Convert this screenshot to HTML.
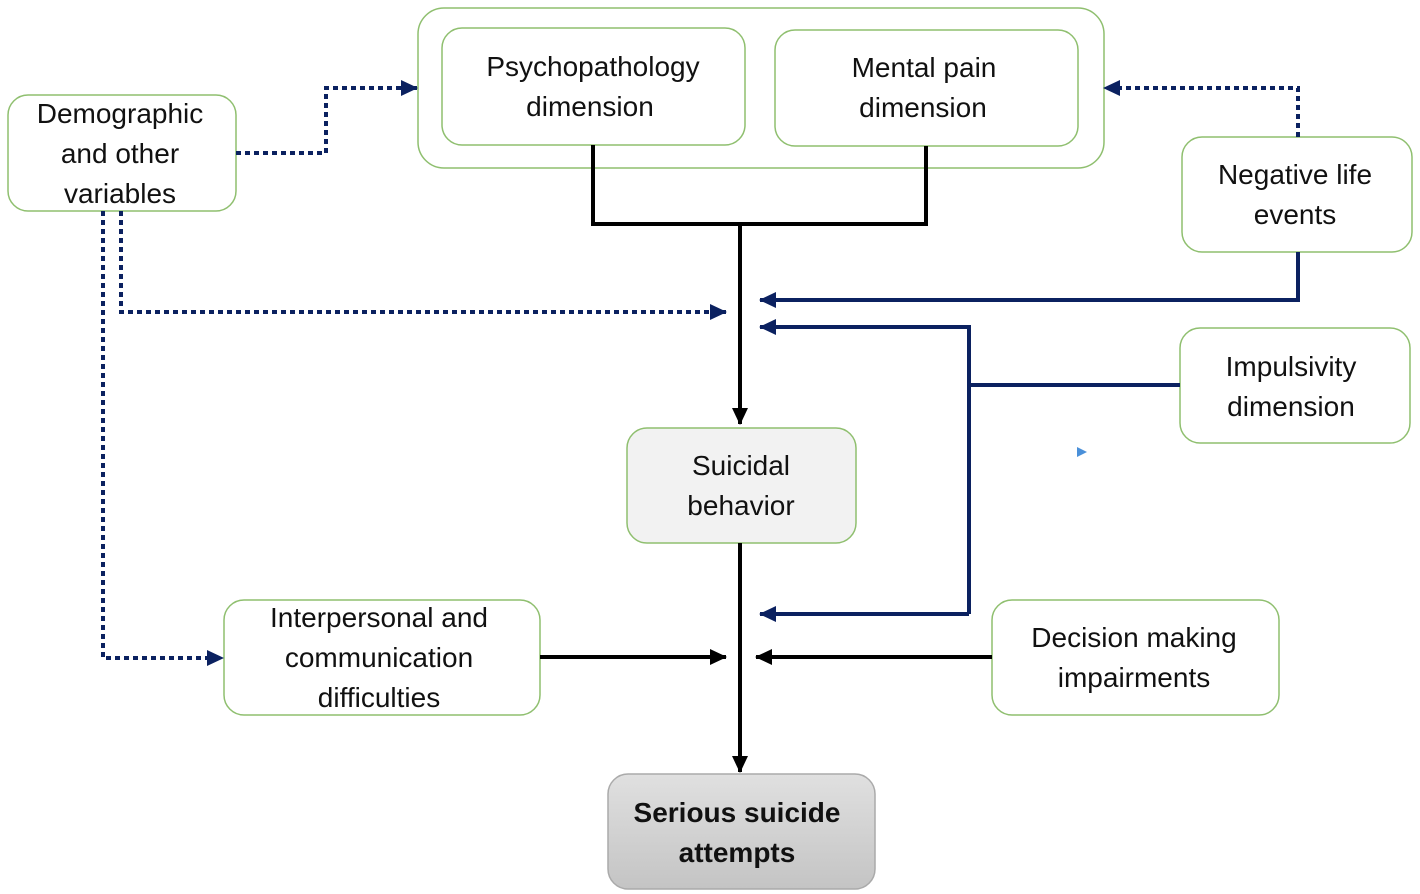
<!DOCTYPE html>
<html><head><style>body{margin:0;background:#fff}svg{display:block}text{font-family:"Liberation Sans",sans-serif;font-size:28px;fill:#111;text-anchor:middle}</style></head>
<body>
<svg width="1420" height="894" viewBox="0 0 1420 894">
<defs>
<marker id="an" markerWidth="18" markerHeight="16" refX="16" refY="8" orient="auto" markerUnits="userSpaceOnUse"><path d="M0,0 L17,8 L0,16 Z" fill="#0b2160"/></marker>
<marker id="ak" markerWidth="18" markerHeight="16" refX="16" refY="8" orient="auto" markerUnits="userSpaceOnUse"><path d="M0,0 L17,8 L0,16 Z" fill="#000"/></marker>
<linearGradient id="g" x1="0" y1="0" x2="0" y2="1"><stop offset="0" stop-color="#e0e0e0"/><stop offset="1" stop-color="#c4c4c4"/></linearGradient>
</defs>
<g fill="#fff" stroke="#8fbf6f" stroke-width="1.5">
<rect x="418" y="8" width="686" height="160" rx="26"/>
<rect x="442" y="28" width="303" height="117" rx="20"/>
<rect x="775" y="30" width="303" height="116" rx="20"/>
<rect x="8" y="95" width="228" height="116" rx="20"/>
<rect x="1182" y="137" width="230" height="115" rx="20"/>
<rect x="1180" y="328" width="230" height="115" rx="20"/>
<rect x="627" y="428" width="229" height="115" rx="20" fill="#f2f2f2"/>
<rect x="224" y="600" width="316" height="115" rx="20"/>
<rect x="992" y="600" width="287" height="115" rx="20"/>
<rect x="608" y="774" width="267" height="115" rx="20" fill="url(#g)" stroke="#aaa"/>
</g>
<g fill="none" stroke="#000" stroke-width="4">
<path d="M593,145 V224 H926 V146"/>
<path d="M740,224 V424" marker-end="url(#ak)"/>
<path d="M740,543 V772" marker-end="url(#ak)"/>
<path d="M540,657 H726" marker-end="url(#ak)"/>
<path d="M992,657 H756" marker-end="url(#ak)"/>
</g>
<g fill="none" stroke="#0b2160" stroke-width="4" stroke-dasharray="5,4">
<path d="M236,153 H326 V88 H417" marker-end="url(#an)"/>
<path d="M1298,137 V88 H1104" marker-end="url(#an)"/>
<path d="M121,211 V312 H726" marker-end="url(#an)"/>
<path d="M103,211 V658 H223" marker-end="url(#an)"/>
</g>
<g fill="none" stroke="#0b2160" stroke-width="4">
<path d="M1298,252 V300 H760" marker-end="url(#an)"/>
<path d="M1180,385 H969"/>
<path d="M969,614 V327 H760" marker-end="url(#an)"/>
<path d="M969,614 H760" marker-end="url(#an)"/>
</g>
<path d="M1077,447 L1087,452 L1077,457 Z" fill="#4a90d9"/>
<text x="593" y="76">Psychopathology</text><text x="590" y="116">dimension</text>
<text x="924" y="77">Mental pain</text><text x="923" y="117">dimension</text>
<text x="120" y="123">Demographic</text><text x="120" y="163">and other</text><text x="120" y="203">variables</text>
<text x="1295" y="184">Negative life</text><text x="1295" y="224">events</text>
<text x="1291" y="376">Impulsivity</text><text x="1291" y="416">dimension</text>
<text x="741" y="475">Suicidal</text><text x="741" y="515">behavior</text>
<text x="379" y="627">Interpersonal and</text><text x="379" y="667">communication</text><text x="379" y="707">difficulties</text>
<text x="1134" y="647">Decision making</text><text x="1134" y="687">impairments</text>
<text x="737" y="822" font-weight="bold">Serious suicide</text><text x="737" y="862" font-weight="bold">attempts</text>
</svg>
</body></html>
